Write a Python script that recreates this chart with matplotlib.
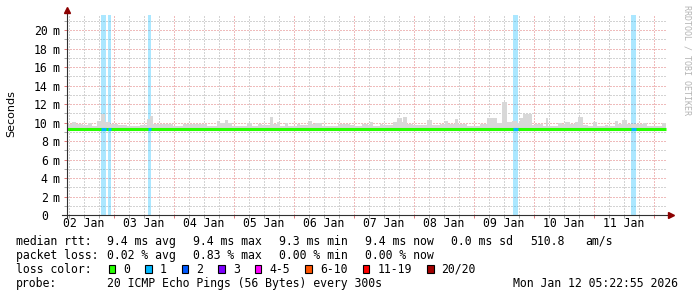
import datetime as dt
import numpy as np
import matplotlib
matplotlib.use("Agg")
import matplotlib.pyplot as plt
import matplotlib.transforms as mtransforms
from matplotlib.patches import Rectangle

W, H = 697, 297
MONO = "DejaVu Sans Mono"

# graph window: 10 days ending at the "now" stamp
end_time = dt.datetime(2026, 1, 12, 5, 22, 55)
span_h = 240.0
start_time = end_time - dt.timedelta(hours=span_h)
y_top = 21.65  # ms

# smoke (grey band): step start in hours from graph start, top of smoke in ms
smoke_h = [0.0, 2.0, 3.6, 6.4, 8.4, 10.0, 12.0, 13.6, 15.2, 17.2,
           20.4, 24.0, 29.2, 32.0, 33.2, 34.4, 37.2, 42.4, 46.4, 50.4,
           53.2, 56.0, 60.0, 60.8, 63.2, 64.4, 66.0, 72.0, 74.0, 76.4,
           78.0, 81.2, 82.4, 84.0, 85.2, 87.2, 88.4, 92.0, 93.2, 96.4,
           98.0, 99.2, 102.0, 108.4, 110.0, 112.0, 113.2, 115.2, 118.0, 120.4,
           121.2, 122.4, 125.2, 126.4, 130.4, 132.0, 134.0, 134.4, 136.0, 138.4,
           144.0, 146.0, 149.2, 151.2, 152.4, 155.2, 156.4, 160.0, 165.2, 168.0,
           172.0, 174.0, 176.0, 178.0, 180.0, 181.2, 182.4, 186.0, 187.2, 190.4,
           191.6, 192.4, 196.4, 198.0, 199.2, 201.2, 203.2, 204.4, 206.4, 208.4,
           210.4, 212.0, 215.2, 216.4, 219.2, 220.4, 222.0, 224.0, 230.4, 232.0,
           238.0]
smoke_top = [9.81, 10.10, 9.81, 9.74, 9.96, 9.67, 10.17, 10.89, 10.10, 9.81,
             9.74, 9.67, 9.74, 10.39, 10.75, 9.89, 9.81, 9.67, 9.81, 9.89,
             9.81, 9.67, 10.20, 9.96, 10.28, 9.96, 9.67, 9.96, 9.67, 9.89,
             9.74, 10.60, 9.81, 10.10, 9.67, 9.96, 9.67, 9.81, 9.74, 10.17,
             9.81, 9.96, 9.67, 9.89, 9.81, 9.89, 9.74, 9.67, 9.89, 9.74,
             10.10, 9.67, 9.89, 9.74, 10.10, 10.53, 10.10, 10.60, 9.81, 9.74,
             10.28, 9.74, 9.81, 10.17, 9.81, 10.39, 9.81, 9.67, 9.89, 10.53,
             9.96, 12.19, 10.10, 10.17, 9.96, 10.53, 10.89, 9.74, 9.89, 9.67,
             10.53, 9.67, 9.96, 9.81, 10.10, 9.89, 10.10, 10.64, 9.74, 9.67,
             10.10, 9.67, 9.74, 9.67, 10.17, 9.81, 10.28, 9.81, 9.96, 9.67,
             10.00]
smoke_low = 9.20
data_end_h = 239.6

# median rtt steps
median_h = [0.0, 24.0, 60.0, 102.0, 138.4, 180.0, 212.0]
median_ms = [9.36, 9.36, 9.36, 9.36, 9.36, 9.36, 9.36]

# packet loss events (1 of 20 lost)
loss_start_h = [13.6, 16.4, 32.4, 178.4, 225.6]
loss_len_h = [2.0, 1.2, 1.2, 2.0, 2.0]

loss_names = ["0", "1", "2", "3", "4-5", "6-10", "11-19", "20/20"]
loss_colors = ["#26ff00", "#00b8ff", "#0059ff", "#7e00ff",
               "#ff00ff", "#ff5500", "#ff0000", "#a10000"]

rtt_values = [9.4, 9.4, 9.3, 9.4]
loss_values = [0.02, 0.83, 0.00, 0.00]
stat_kinds = ["avg", "max", "min", "now"]
rtt_sd = 0.0
am_per_s = 510.8
probe_text = "20 ICMP Echo Pings (56 Bytes) every 300s"

grid_minor = "#a8a8a8"
grid_major = "#e07878"

fig = plt.figure(figsize=(W / 100, H / 100), dpi=100)
ax = fig.add_axes([67 / W, 82 / H, 600 / W, 200 / H])
ax.set_xlim(0, span_h)
ax.set_ylim(0, y_top)

# grid
first_midnight = (dt.datetime.combine(start_time.date() + dt.timedelta(days=1),
                                      dt.time()) - start_time).total_seconds() / 3600
major_x = np.arange(first_midnight, span_h, 24.0)
minor_x = np.arange(first_midnight % 6, span_h, 6.0)
minor_x = np.array([v for v in minor_x if np.min(np.abs(major_x - v)) > 0.1])
ax.set_xticks(major_x)
ax.set_xticks(minor_x, minor=True)
ax.set_yticks(np.arange(0, 21, 2))
ax.set_yticks(np.arange(1, 22, 2), minor=True)
ax.set_axisbelow(True)
ax.grid(which="minor", color=grid_minor, linestyle=(0, (1, 2)), linewidth=0.72)
ax.grid(which="major", color=grid_major, linestyle=(0, (1, 2)), linewidth=0.72)
ax.tick_params(which="major", length=2.5, width=0.72, color=grid_major,
               labelbottom=False, labelleft=False)
ax.tick_params(which="minor", length=2.5, width=0.72, color=grid_minor)
for s in ax.spines.values():
    s.set_visible(False)

# loss bars
for t0, dur in zip(loss_start_h, loss_len_h):
    ax.axvspan(t0, t0 + dur, color=loss_colors[1], alpha=0.33, lw=0, zorder=1)

# smoke
edges = np.array(smoke_h + [data_end_h])
tops = np.array(smoke_top + [smoke_top[-1]])
ax.fill_between(edges, smoke_low, tops, step="post", color="#d8d8d8", lw=0, zorder=2)

# median line
mh = np.array(median_h + [data_end_h])
mv = np.array(median_ms + [median_ms[-1]])
ax.plot(mh, mv, drawstyle="steps-post", color=loss_colors[0], lw=2.2,
        solid_capstyle="butt", zorder=3)
for t0, dur in zip(loss_start_h, loss_len_h):
    idx = np.searchsorted(median_h, t0, side="right") - 1
    ax.plot([t0, t0 + dur], [median_ms[idx]] * 2, color=loss_colors[1], lw=2.2,
            solid_capstyle="butt", zorder=4)

# axes with arrows
axis_c = "#303030"
arrow_c = "#8c0000"
ax.plot([-0.008, 1.006], [0, 0], transform=ax.transAxes, color=axis_c,
        lw=0.8, clip_on=False, zorder=5)
ax.plot([0, 0], [-0.015, 1.02], transform=ax.transAxes, color=axis_c,
        lw=0.8, clip_on=False, zorder=5)
ax.plot([1.0065], [0], transform=ax.transAxes, marker=">", ms=3.8,
        color=arrow_c, clip_on=False, zorder=6)
ax.plot([0], [1.0225], transform=ax.transAxes, marker="^", ms=3.8,
        color=arrow_c, clip_on=False, zorder=6)

# y labels
ylab = mtransforms.blended_transform_factory(ax.transAxes, ax.transData)
for v in range(0, 21, 2):
    ax.text((47.8 - 67) / 600, v, str(v), transform=ylab, ha="right",
            va="center_baseline", family=MONO, fontsize=8.3)
    if v:
        ax.text((52.6 - 67) / 600, v, "m", transform=ylab, ha="left",
                va="center_baseline", family=MONO, fontsize=8.3)

# x labels at noon of each day
xlab = mtransforms.blended_transform_factory(ax.transData, ax.transAxes)
for k in range(11):
    noon = first_midnight - 12 + 24 * k
    if 0 < noon < span_h:
        day = (start_time + dt.timedelta(hours=noon)).strftime("%d %b")
        ax.text(noon, (215 - 227.3) / 200, day, transform=xlab, ha="center",
                va="baseline", family=MONO, fontsize=8.3)

fig.text(10.8 / W, 1 - 113.5 / H, "Seconds", rotation=90, ha="center",
         va="center", family="DejaVu Sans", fontsize=8)
fig.text(687.5 / W, 1 - 60 / H, "RRDTOOL / TOBI OETIKER", rotation=270,
         ha="center", va="center", family=MONO, fontsize=6, color="#b4b4b4")


def ftext(x, y, s, **kw):
    fig.text(x / W, 1 - y / H, s, ha="left", va="baseline", family=MONO,
             fontsize=8.3, **kw)


rows = [244.7, 258.7, 272.7, 286.7]
cols = [107.3, 193.3, 279.3, 365.0]
ftext(16, rows[0], "median rtt:")
for x, v, kind in zip(cols, rtt_values, stat_kinds):
    ftext(x, rows[0], f"{v:.1f} ms {kind}")
ftext(451, rows[0], f"{rtt_sd:.1f} ms sd")
ftext(530, rows[0], f"{am_per_s:.1f}")
ftext(585.7, rows[0], "am/s")

ftext(16, rows[1], "packet loss:")
for x, v, kind in zip(cols, loss_values, stat_kinds):
    ftext(x, rows[1], f"{v:.2f} % {kind}")

ftext(16, rows[2], "loss color:")
bx = 108.7
for name, col in zip(loss_names, loss_colors):
    fig.add_artist(Rectangle((bx / W, 1 - 273.0 / H), 6.6 / W, 8.0 / H,
                             transform=fig.transFigure, facecolor=col,
                             edgecolor="black", lw=0.8))
    tx = bx + 14.6
    ftext(tx, rows[2], name)
    bx = tx + 6.94 * len(name) + 15.0

ftext(16, rows[3], "probe:")
ftext(107.3, rows[3], probe_text)
ftext(512.7, rows[3], end_time.strftime("%a %b %d %H:%M:%S %Y"))

fig.savefig("out.png", dpi=100, facecolor="white")
